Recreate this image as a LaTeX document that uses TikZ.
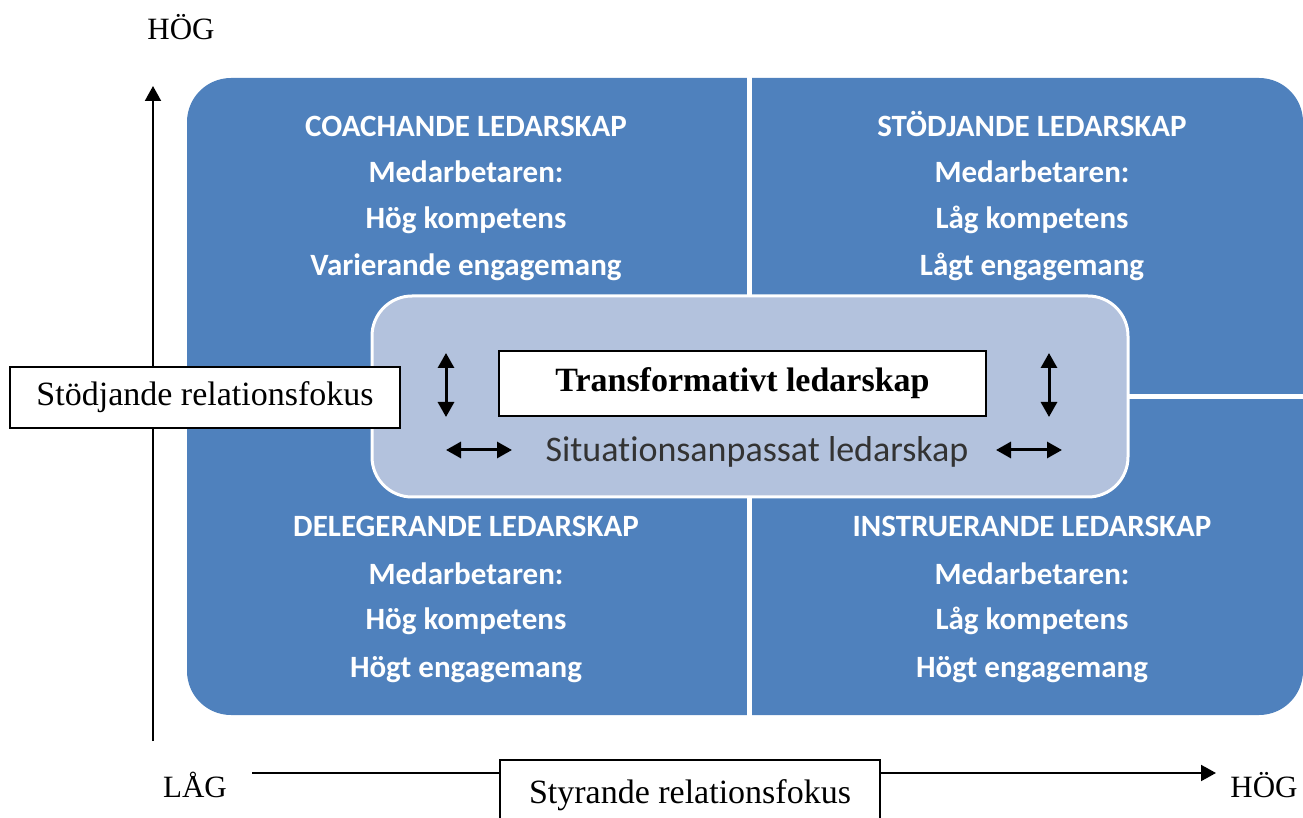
\documentclass[tikz,border=0pt]{standalone}
\usepackage{fontspec}
\setmainfont{Liberation Serif}
\newfontfamily\calibri[Ligatures=NoCommon]{Carlito}
\usetikzlibrary{arrows.meta}
\definecolor{qblue}{HTML}{4F81BD}
\definecolor{cbox}{HTML}{B3C2DD}
\definecolor{sgray}{HTML}{333333}
\begin{document}
\begin{tikzpicture}[x=0.5pt,y=-0.5pt,
  qtext/.style={anchor=base, inner sep=0pt, text=white, font=\calibri\bfseries\fontsize{15.5}{18}\selectfont},
  axlabel/.style={anchor=base, inner sep=0pt, font=\fontsize{15.5}{18}\selectfont},
  labbox/.style={draw=black, fill=white, line width=1pt, inner sep=0pt, font=\fontsize{17}{20}\selectfont},
  axis/.style={line width=1pt, -{Triangle[length=7.5pt,width=8pt]}},
  dbl/.style={line width=1.5pt, {Triangle[length=7.5pt,width=8pt]}-{Triangle[length=7.5pt,width=8pt]}}
]
\useasboundingbox (0,0) rectangle (1303,818);
% quadrant field
\fill[qblue, rounded corners=22pt] (187,78) rectangle (1303,715);
\coordinate (vt) at (749.5,70);
\coordinate (vb) at (749.5,720);
\coordinate (hl) at (180,397);
\coordinate (hr) at (1310,397);
\draw[white, line width=2.5pt] (vt) -- (vb);
\draw[white, line width=2.5pt] (hl) -- (hr);
% quadrant texts
\node[qtext] (tl1) at (466,137) {COACHANDE LEDARSKAP};
\node[qtext] (tl2) at (466,183) {Medarbetaren:};
\node[qtext] (tl3) at (466,229) {Hög kompetens};
\node[qtext] (tl4) at (466,276) {Varierande engagemang};
\node[qtext] (tr1) at (1032,137) {STÖDJANDE LEDARSKAP};
\node[qtext] (tr2) at (1032,183) {Medarbetaren:};
\node[qtext] (tr3) at (1032,229) {Låg kompetens};
\node[qtext] (tr4) at (1032,276) {Lågt engagemang};
\node[qtext] (bl1) at (466,537) {DELEGERANDE LEDARSKAP};
\node[qtext] (bl2) at (466,584) {Medarbetaren:};
\node[qtext] (bl3) at (466,630) {Hög kompetens};
\node[qtext] (bl4) at (466,677) {Högt engagemang};
\node[qtext] (br1) at (1032,537) {INSTRUERANDE LEDARSKAP};
\node[qtext] (br2) at (1032,584) {Medarbetaren:};
\node[qtext] (br3) at (1032,630) {Låg kompetens};
\node[qtext] (br4) at (1032,677) {Högt engagemang};
% centre box
\node[draw=white, fill=cbox, line width=1.5pt, rounded corners=20pt, minimum width=378pt, minimum height=100.5pt] (mid) at (750,396.5) {};
\node[draw=black, fill=white, line width=1pt, minimum width=243.5pt, minimum height=32.5pt, inner sep=0pt, font=\bfseries\fontsize{17}{20}\selectfont] (trans) at (742.5,383.5) {Transformativt ledarskap};
\node[anchor=base, inner sep=0pt, text=sgray, font=\calibri\fontsize{18}{21}\selectfont] (sit) at (757,462) {Situationsanpassat ledarskap};
\coordinate (a1t) at (446,353); \coordinate (a1b) at (446,417);
\coordinate (a2t) at (1049,353); \coordinate (a2b) at (1049,417);
\coordinate (a3l) at (446,450); \coordinate (a3r) at (512,450);
\coordinate (a4l) at (996,450); \coordinate (a4r) at (1062,450);
\draw[dbl] (a1t) -- (a1b);
\draw[dbl] (a2t) -- (a2b);
\draw[dbl] (a3l) -- (a3r);
\draw[dbl] (a4l) -- (a4r);
% axes
\coordinate (yb) at (153,741);
\coordinate (yt) at (153,86);
\coordinate (xl) at (252,773);
\coordinate (xr) at (1216,773);
\draw[axis] (yb) -- (yt);
\draw[axis] (xl) -- (xr);
\node[labbox, minimum width=195pt, minimum height=30.5pt] (stod) at (205,397.5) {Stödjande relationsfokus};
\node[labbox, minimum width=190pt, minimum height=35pt] (styr) at (690,795) {Styrande relationsfokus};
\node[axlabel] (hogy) at (181,40) {HÖG};
\node[axlabel] (lag) at (195,797) {LÅG};
\node[axlabel] (hogx) at (1264,797) {HÖG};
\end{tikzpicture}
\end{document}
